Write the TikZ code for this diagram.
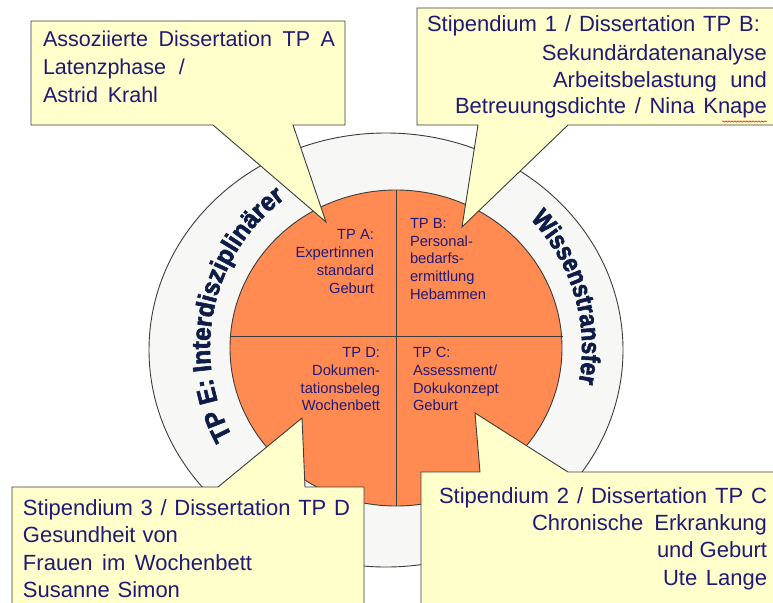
\documentclass[tikz,border=0pt]{standalone}
\usepackage{fontspec}
\setmainfont{Liberation Sans}
\newfontfamily\ringfont{Liberation Sans Bold}[FakeBold=2.2, FakeStretch=0.88]
\newfontfamily\ringfontwide{Liberation Sans Bold}[FakeBold=2.2, FakeStretch=0.94]
\usetikzlibrary{calc,decorations.text,decorations.pathmorphing}
\definecolor{ringfill}{RGB}{247,247,245}
\definecolor{edgegray}{RGB}{60,60,60}
\definecolor{orangefill}{RGB}{255,138,82}
\definecolor{calloutfill}{RGB}{255,255,204}
\definecolor{txtblue}{RGB}{32,26,118}
\definecolor{ringtxt}{RGB}{14,28,72}
\newcommand\fitline[2]{\makebox[#1pt][s]{#2}}
\begin{document}
\begin{tikzpicture}[x=1pt,y=-1pt,
  ctext/.style={font=\fontsize{22}{24}\selectfont, text=txtblue, inner sep=0pt, outer sep=0pt},
  atext/.style={font=\fontsize{21.5}{24}\selectfont, text=txtblue, inner sep=0pt, outer sep=0pt},
  qtext/.style={font=\fontsize{14.7}{17}\selectfont, text=txtblue, inner sep=0pt, outer sep=0pt},
  callout/.style={fill=calloutfill, draw=edgegray, line width=0.9pt, line join=miter},
  ringshape/.style={fill=ringfill, draw=edgegray, line width=0.9pt},
  discshape/.style={fill=orangefill, draw=edgegray, line width=0.9pt},
  divider/.style={draw=edgegray, line width=1pt},
  ringlabel/.style={decorate, decoration={text along path, text color=ringtxt, text align=center, text={#1}}},
  spellmark/.style={draw=red, line width=0.5pt, decorate, decoration={snake, amplitude=0.7pt, segment length=3pt}},
]
\useasboundingbox (0,0) rectangle (773,602);
\fill[white] (0,0) rectangle (773,602);

% grey ring
\draw[ringshape] (386,350) ellipse [x radius=237pt, y radius=217pt];
\coordinate (C) at (396,348);
\path[ringlabel={|\ringfontwide\fontsize{26}{26}\selectfont|TP E: Interdisziplinärer}]
  ($(C)+(214:186pt)$) arc[start angle=214, end angle=121, radius=186pt];
\path[ringlabel={|\ringfont\fontsize{26}{26}\selectfont|Wissenstransfer}]
  ($(C)+(50:186pt)$) arc[start angle=50, end angle=-17, radius=186pt];

% orange disc with cross
\draw[discshape] (C) ellipse [x radius=166pt, y radius=158pt];
\coordinate (vt) at (396,190);
\coordinate (vb) at (396,506);
\coordinate (hl) at (230,336);
\coordinate (hr) at (563,336);
\draw[divider] (vt) -- (vb);
\draw[divider] (hl) -- (hr);

% quadrant texts
\node[qtext, anchor=base east] (qa1) at (374,239) {TP A:};
\node[qtext, anchor=base east] (qa2) at (374,257) {Expertinnen};
\node[qtext, anchor=base east] (qa3) at (374,275) {standard};
\node[qtext, anchor=base east] (qa4) at (374,293) {Geburt};

\node[qtext, anchor=base west] (qb1) at (410,228) {TP B:};
\node[qtext, anchor=base west] (qb2) at (410,246) {Personal-};
\node[qtext, anchor=base west] (qb3) at (410,263.5) {bedarfs-};
\node[qtext, anchor=base west] (qb4) at (410,281) {ermittlung};
\node[qtext, anchor=base west] (qb5) at (410,299) {Hebammen};

\node[qtext, anchor=base east] (qd1) at (380,357) {TP D:};
\node[qtext, anchor=base east] (qd2) at (380,375) {Dokumen-};
\node[qtext, anchor=base east] (qd3) at (380,393) {tationsbeleg};
\node[qtext, anchor=base east] (qd4) at (380,410.5) {Wochenbett};

\node[qtext, anchor=base west] (qc1) at (413,357) {TP C:};
\node[qtext, anchor=base west] (qc2) at (413,375) {Assessment/};
\node[qtext, anchor=base west] (qc3) at (413,393) {Dokukonzept};
\node[qtext, anchor=base west] (qc4) at (413,410.5) {Geburt};

% callouts
\draw[callout] (31,21) -- (345,21) -- (345,125) -- (293,125) -- (326,222) -- (213,125) -- (31,125) -- cycle;
\draw[callout] (417,8) -- (777,8) -- (777,125) -- (568,125) -- (462,227) -- (478,125) -- (417,125) -- cycle;
\draw[callout] (421,472) -- (480,472) -- (475,413) -- (568,472) -- (777,472) -- (777,606) -- (421,606) -- cycle;
\draw[callout] (12,487) -- (218,487) -- (302,418) -- (305,487) -- (364,487) -- (364,606) -- (12,606) -- cycle;

% callout A
\node[atext, anchor=base west] (a1) at (43,47) {\fitline{292}{Assoziierte Dissertation TP A}};
\node[atext, anchor=base west] (a2) at (43,74.5) {\fitline{142}{Latenzphase /}};
\node[atext, anchor=base west] (a3) at (43,102) {\fitline{115}{Astrid Krahl}};

% callout B
\node[ctext, anchor=base east] (b1) at (760,32) {\fitline{333}{Stipendium 1 / Dissertation TP B:}};
\node[ctext, anchor=base east] (b2) at (767,60) {Sekundärdatenanalyse};
\node[ctext, anchor=base east] (b3) at (767,87) {\fitline{214}{Arbeitsbelastung und}};
\node[ctext, anchor=base east] (b4) at (767,113) {\fitline{312}{Betreuungsdichte / Nina Knape}};
\coordinate (k1) at (722,121.5);
\coordinate (k2) at (767,121.5);
\draw[spellmark] (k1) -- (k2);

% callout C
\node[ctext, anchor=base east] (c1) at (767,503) {\fitline{328}{Stipendium 2 / Dissertation TP C}};
\node[ctext, anchor=base east] (c2) at (767,530) {\fitline{235}{Chronische Erkrankung}};
\node[ctext, anchor=base east] (c3) at (767,557) {\fitline{110}{und Geburt}};
\node[ctext, anchor=base east] (c4) at (767,585) {\fitline{104}{Ute Lange}};

% callout D
\node[ctext, anchor=base west] (d1) at (23,515) {\fitline{327}{Stipendium 3 / Dissertation TP D}};
\node[ctext, anchor=base west] (d2) at (23,542) {\fitline{155}{Gesundheit von}};
\node[ctext, anchor=base west] (d3) at (23,570) {\fitline{229}{Frauen im Wochenbett}};
\node[ctext, anchor=base west] (d4) at (23,597) {\fitline{157}{Susanne Simon}};
\end{tikzpicture}
\end{document}
